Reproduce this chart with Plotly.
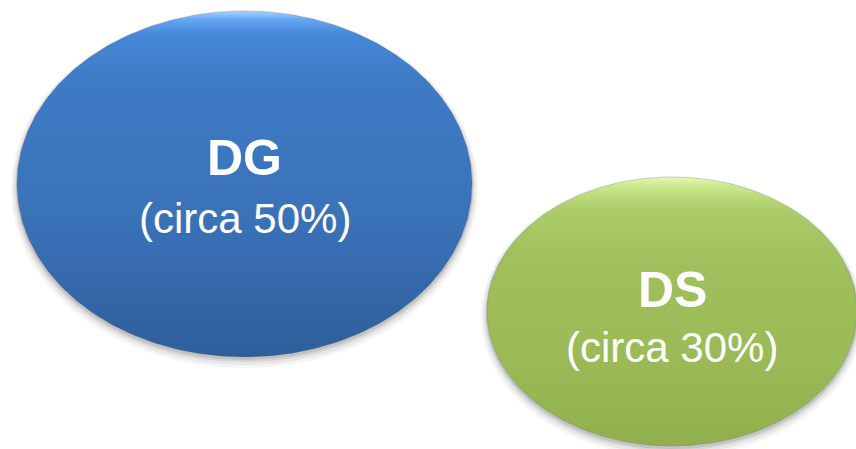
import numpy as np
import plotly.graph_objects as go

# ---- data ----
labels = ["DG", "DS"]
shares = [50, 30]
share_texts = ["(circa 50%)", "(circa 30%)"]

# ---- layout / style (pixel space of the 856x449 page) ----
W, H = 856, 449
centers_x = [244.5, 672.0]
centers_y = [184.0, 311.5]
radii_x = [227.5, 185.0]
radii_y = [173.0, 134.5]
gradients = [
    [[0.0, "#a6d4ff"], [0.025, "#62a6f4"], [0.07, "#4586d6"], [0.20, "#3e7bc5"],
     [0.60, "#3a72b8"], [1.0, "#2f5e9b"]],
    [[0.0, "#e4f8b4"], [0.04, "#c6e688"], [0.12, "#accd6a"], [0.28, "#a0c15d"],
     [0.65, "#9bbb59"], [1.0, "#90b04e"]],
]
title_sizes = [50, 50]
sub_sizes = [42, 42]
title_y = [158, 290]
sub_y = [218, 347]

fig = go.Figure()
t = np.linspace(0, 2 * np.pi, 361)

for i, lab in enumerate(labels):
    cx, cy, rx, ry = centers_x[i], centers_y[i], radii_x[i], radii_y[i]
    # soft shadow
    for grow, dy, a in [(6, 5, 0.05), (4, 4, 0.07), (2, 3, 0.10), (1, 2, 0.12)]:
        fig.add_trace(go.Scatter(
            x=cx + (rx + grow) * np.cos(t), y=cy + dy + (ry + grow) * np.sin(t),
            mode="lines", fill="toself", line=dict(width=0),
            fillcolor=f"rgba(60,60,60,{a})", hoverinfo="skip", showlegend=False))
    # the bubble
    fig.add_trace(go.Scatter(
        x=cx + rx * np.cos(t), y=cy + ry * np.sin(t),
        mode="lines", fill="toself", line=dict(width=0.6, color="rgba(80,80,80,0.35)"),
        fillgradient=dict(type="vertical", colorscale=gradients[i],
                          start=cy - ry, stop=cy + ry),
        hoverinfo="skip", showlegend=False, name=f"{lab} {shares[i]}%"))
    fig.add_annotation(x=cx, y=title_y[i], text=f"<b>{lab}</b>", showarrow=False,
                       xanchor="center", yanchor="middle",
                       font=dict(family="Liberation Sans, Arial", size=title_sizes[i], color="white"))
    fig.add_annotation(x=cx, y=sub_y[i], text=share_texts[i], showarrow=False,
                       xanchor="center", yanchor="middle",
                       font=dict(family="Liberation Sans, Arial", size=sub_sizes[i], color="white"))

fig.update_layout(
    width=W, height=H, margin=dict(l=0, r=0, t=0, b=0),
    paper_bgcolor="white", plot_bgcolor="white",
    xaxis=dict(range=[0, W], visible=False, fixedrange=True),
    yaxis=dict(range=[H, 0], visible=False, fixedrange=True),
    showlegend=False,
)
fig.write_html("out.html", config={"displayModeBar": False})
